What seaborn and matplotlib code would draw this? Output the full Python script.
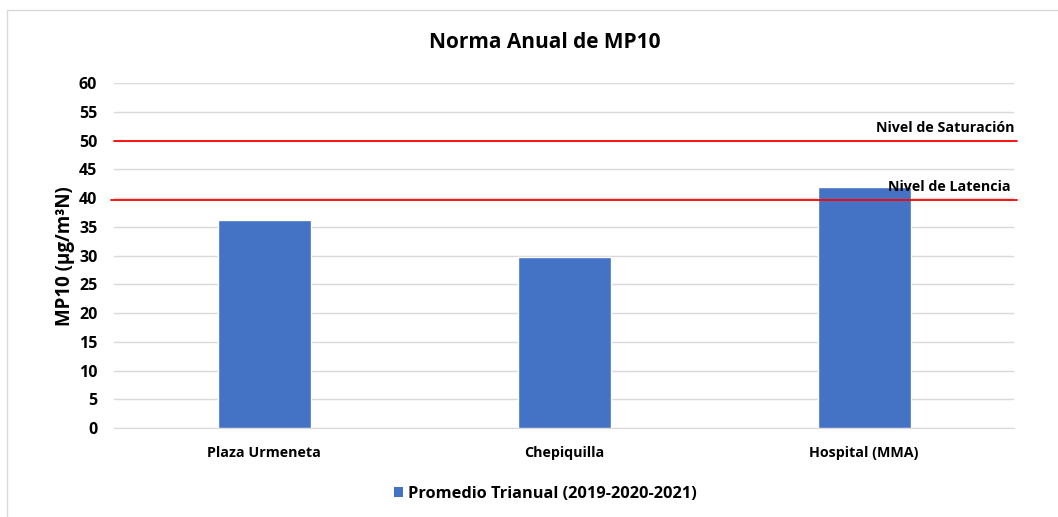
import matplotlib
matplotlib.use("Agg")
import matplotlib.pyplot as plt
import seaborn as sns
import pandas as pd
from matplotlib.patches import Rectangle, Patch

categories = ["Plaza Urmeneta", "Chepiquilla", "Hospital (MMA)"]
values = [36.2, 29.8, 41.9]
series_name = "Promedio Trianual (2019-2020-2021)"
saturacion = 50.0
latencia = 39.7
yticks = [0, 5, 10, 15, 20, 25, 30, 35, 40, 45, 50, 55, 60]

sns.set_style("white")
plt.rcParams['font.family'] = ['Open Sans', 'DejaVu Sans']
plt.rcParams['text.color'] = 'black'
plt.rcParams['xtick.color'] = 'black'
plt.rcParams['ytick.color'] = 'black'
plt.rcParams['axes.labelcolor'] = 'black'

df = pd.DataFrame({"Estación": categories, "MP10": values})

fig = plt.figure(figsize=(10.58, 5.17), dpi=100)
W, H = 1058, 517
ax = fig.add_axes([114 / W, 1 - 428 / H, 900 / W, (428 - 83.3) / H])

# chart frame
fig.patches.append(Rectangle((7 / W, -0.1), 1.2, 1 - 9.5 / H + 0.1, transform=fig.transFigure,
                             fill=False, edgecolor="#D9D9D9", linewidth=1.0))

sns.barplot(data=df, x="Estación", y="MP10", color="#4472C4", width=0.31, ax=ax, zorder=3,
            saturation=1)

ax.set_ylim(0, 60)
ax.set_xlim(-0.5, 2.5)
ax.set_yticks(yticks)
ax.yaxis.grid(True, color="#D9D9D9", linewidth=1.0, zorder=0)
ax.set_axisbelow(True)
for s in ["top", "right", "left"]:
    ax.spines[s].set_visible(False)
ax.spines["bottom"].set_color("#D9D9D9")
ax.tick_params(axis="both", length=0)
ax.tick_params(axis="y", labelsize=11.5, pad=12)
ax.tick_params(axis="x", labelsize=10.3, pad=13)
for lab in ax.get_yticklabels() + ax.get_xticklabels():
    lab.set_fontweight("bold")
ax.set_xlabel("")
ax.set_ylabel("MP10 (µg/m³N)", fontsize=13.5, fontweight="bold", labelpad=3)

ax.axhline(saturacion, color="#FF0000", linewidth=1.3, xmin=0, xmax=1.003, zorder=4, clip_on=False)
ax.axhline(latencia, color="#FF0000", linewidth=1.3, xmin=-0.003, xmax=1.003, zorder=4, clip_on=False)
ax.text(2.5, saturacion + 2.3, "Nivel de Saturación", ha="right", va="center",
        fontsize=10.3, fontweight="bold", zorder=5)
ax.text(2.49, latencia + 2.3, "Nivel de Latencia", ha="right", va="center",
        fontsize=10.3, fontweight="bold", zorder=5)

fig.text(545 / W, 1 - 42 / H, "Norma Anual de MP10", ha="center", va="center",
         fontsize=15, fontweight="bold")

handle = Patch(facecolor="#4472C4", edgecolor="none")
fig.legend([handle], [series_name], loc="center", bbox_to_anchor=(545 / W, 1 - 494 / H),
           frameon=False, prop={"size": 11.8, "weight": "bold"}, handlelength=0.55,
           handleheight=0.55, handletextpad=0.3)

fig.savefig("out.png", dpi=100)
